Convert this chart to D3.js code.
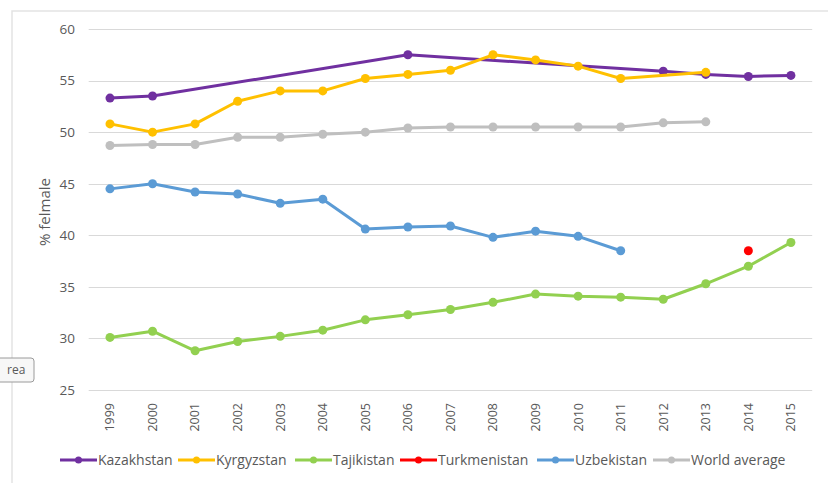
<!DOCTYPE html>
<html lang="en">
<head>
<meta charset="utf-8">
<style type="text/css">
    body { margin: 0; background: #fff; }
    text { font-family: "Open Sans", "Liberation Sans", sans-serif; fill: #595959; }
    .grid line { stroke: #d9d9d9; stroke-width: 1; }
</style>
</head>
<body>
<svg width="828" height="483"></svg>
<script src="https://d3js.org/d3.v7.min.js"></script>
<script type="text/javascript">
    var years = ["1999","2000","2001","2002","2003","2004","2005","2006","2007","2008","2009","2010","2011","2012","2013","2014","2015"];
    var yTicks = [25, 30, 35, 40, 45, 50, 55, 60];

    var kazakhstan   = [53.3, 53.5, null, null, null, null, null, 57.5, null, null, null, null, null, 55.9, 55.6, 55.4, 55.5];
    var kyrgyzstan   = [50.8, 50.0, 50.8, 53.0, 54.0, 54.0, 55.2, 55.6, 56.0, 57.5, 57.0, 56.4, 55.2, null, 55.8, null, null];
    var tajikistan   = [30.1, 30.7, 28.8, 29.7, 30.2, 30.8, 31.8, 32.3, 32.8, 33.5, 34.3, 34.1, 34.0, 33.8, 35.3, 37.0, 39.3];
    var turkmenistan = [null, null, null, null, null, null, null, null, null, null, null, null, null, null, null, 38.5, null];
    var uzbekistan   = [44.5, 45.0, 44.2, 44.0, 43.1, 43.5, 40.6, 40.8, 40.9, 39.8, 40.4, 39.9, 38.5, null, null, null, null];
    var worldAverage = [48.7, 48.8, 48.8, 49.5, 49.5, 49.8, 50.0, 50.4, 50.5, 50.5, 50.5, 50.5, 50.5, 50.9, 51.0, null, null];

    var series = [
        {name: "Kazakhstan", values: kazakhstan, color: "#7030a0"},
        {name: "Kyrgyzstan", values: kyrgyzstan, color: "#ffc000"},
        {name: "Tajikistan", values: tajikistan, color: "#92d050"},
        {name: "Turkmenistan", values: turkmenistan, color: "#ff0000"},
        {name: "Uzbekistan", values: uzbekistan, color: "#5b9bd5"},
        {name: "World average", values: worldAverage, color: "#bfbfbf"}
    ];

    var svg = d3.select("svg");

    // outer chart border (only top and left edges visible)
    svg.append("path")
        .attr("d", "M12,483 L12,11 L828,11")
        .attr("fill", "none")
        .attr("stroke", "#e3e3e3")
        .attr("stroke-width", 1.5);

    var x = d3.scaleBand().domain(years).range([88.7, 812.2]);
    var y = d3.scaleLinear().domain([25, 60]).range([390, 29]);

    // gridlines
    svg.append("g")
        .attr("class", "grid")
        .selectAll("line")
        .data(yTicks)
        .enter()
        .append("line")
        .attr("x1", 88.7)
        .attr("x2", 812.2)
        .attr("y1", function (d) { return Math.round(y(d)) + 0.5; })
        .attr("y2", function (d) { return Math.round(y(d)) + 0.5; });

    // y axis labels
    var yAxis = svg.append("g")
        .attr("transform", "translate(75,0)")
        .call(d3.axisLeft(y).tickValues(yTicks).tickSize(0).tickPadding(0));
    yAxis.select(".domain").remove();
    yAxis.selectAll("text")
        .attr("font-size", 13.5)
        .style("font-family", "'Open Sans', sans-serif")
        .attr("fill", "#595959");

    // x axis labels, rotated
    var xAxis = svg.append("g")
        .attr("transform", "translate(0,396)")
        .call(d3.axisBottom(x).tickSize(0).tickPadding(0));
    xAxis.select(".domain").remove();
    xAxis.selectAll("text")
        .attr("font-size", 12.5)
        .style("font-family", "'Open Sans', sans-serif")
        .attr("fill", "#595959")
        .attr("text-anchor", "end")
        .attr("dy", "0.35em")
        .attr("transform", "rotate(-90) translate(-7,0)")
        .attr("y", 0)
        .attr("x", 0);

    svg.append("text")
        .attr("transform", "translate(50,212) rotate(-90)")
        .attr("text-anchor", "middle")
        .attr("font-size", 15)
        .text("% felmale");

    var line = d3.line()
        .x(function (d) { return x(d.year) + x.bandwidth() / 2; })
        .y(function (d) { return y(d.v); });

    series.forEach(function (s) {
        var pts = [];
        s.values.forEach(function (v, i) {
            if (v !== null) pts.push({year: years[i], v: v});
        });
        var g = svg.append("g");
        if (pts.length > 1) {
            g.append("path")
                .datum(pts)
                .attr("d", line)
                .attr("fill", "none")
                .attr("stroke", s.color)
                .attr("stroke-width", 3)
                .attr("stroke-linejoin", "round");
        }
        g.selectAll("circle")
            .data(pts)
            .enter()
            .append("circle")
            .attr("cx", function (d) { return x(d.year) + x.bandwidth() / 2; })
            .attr("cy", function (d) { return y(d.v); })
            .attr("r", 4.5)
            .attr("fill", s.color);
    });

    // legend
    var legendX = [60, 178, 295, 400, 537, 653];
    var legend = svg.append("g")
        .selectAll("g")
        .data(series)
        .enter()
        .append("g")
        .attr("transform", function (d, i) { return "translate(" + legendX[i] + ",460)"; });
    legend.append("line")
        .attr("x1", 0).attr("x2", 37)
        .attr("stroke", function (d) { return d.color; })
        .attr("stroke-width", 3);
    legend.append("circle")
        .attr("cx", 18.5).attr("r", 3.5)
        .attr("fill", function (d) { return d.color; });
    legend.append("text")
        .attr("x", 38)
        .attr("dy", "0.35em")
        .attr("font-size", 14)
        .text(function (d) { return d.name; });

    // leftover tooltip box at the left edge
    svg.append("rect")
        .attr("x", -4).attr("y", 358)
        .attr("width", 38).attr("height", 24)
        .attr("rx", 3)
        .attr("fill", "#f7f7f7")
        .attr("stroke", "#9a9a9a");
    svg.append("text")
        .attr("x", 7).attr("y", 374)
        .attr("font-size", 12)
        .attr("fill", "#333")
        .text("rea");
</script>
</body>
</html>
